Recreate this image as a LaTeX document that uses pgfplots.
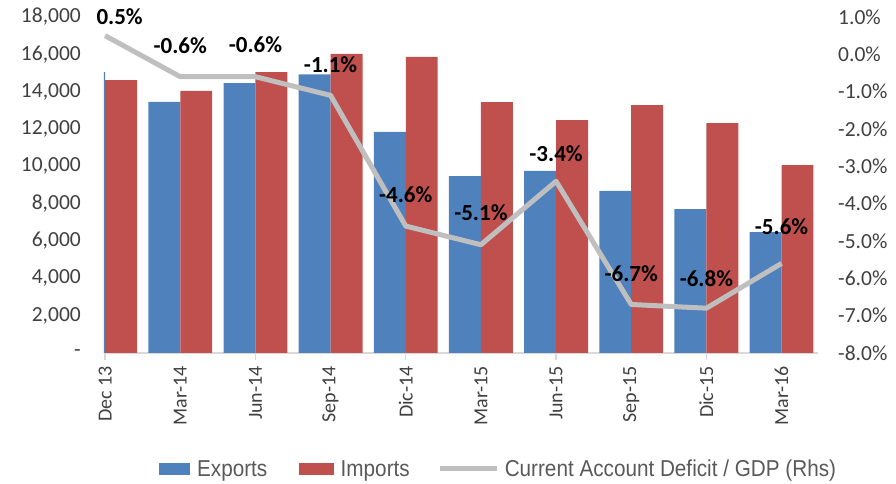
\documentclass[border=0pt]{standalone}
\usepackage{fontspec}
\setmainfont{Carlito}
\newfontfamily\legfont[FakeStretch=0.9]{Liberation Sans}
\usepackage{pgfplots}
\usepackage{pgfplotstable}
\pgfplotsset{compat=1.18}

\definecolor{expblue}{HTML}{4F81BD}
\definecolor{impred}{HTML}{C0504D}
\definecolor{cadgray}{HTML}{BFBFBF}
\definecolor{axgray}{HTML}{D9D9D9}
\definecolor{ticktext}{HTML}{404040}
\definecolor{legtext}{HTML}{595959}

% exports / imports (lhs)
\pgfplotstableread{
x exp imp
0 15050 14620
1 13450 14040
2 14460 15050
3 14920 16020
4 11840 15860
5 9480 13440
6 9750 12480
7 8680 13280
8 7710 12310
9 6480 10070
}\trade

% current account deficit / GDP (rhs), with label offsets in pt
\pgfplotstableread{
x cad dx dy
0 0.5 14.5 19
1 -0.6 0 31
2 -0.6 0 32
3 -1.1 0 31
4 -4.6 0 31
5 -5.1 0 32
6 -3.4 0 28
7 -6.7 0 31
8 -6.8 0 30
9 -5.6 0 37
}\cad

\begin{document}
\begin{tikzpicture}
\path[use as bounding box] (-104pt,-131pt) rectangle (792pt,353pt);
\pgfplotsset{
  base/.style={
    width=714pt, height=336pt, scale only axis,
    xmin=-0.015, xmax=9.485,
    scaled ticks=false,
    tick label style={font=\fontsize{21.5}{25}\selectfont, text=ticktext},
    /pgf/number format/assume math mode=true,
    major tick length=0pt,
  }
}
\begin{axis}[base,
  ymin=0, ymax=18000,
  ytick={0,2000,...,18000},
  yticklabels={{-\hspace{0.45em}},{2,000},{4,000},{6,000},{8,000},{10,000},{12,000},{14,000},{16,000},{18,000}},
  axis x line*=bottom, axis y line*=left,
  y axis line style={draw=none},
  x axis line style={draw=axgray, line width=1.3pt, -},
  xtick={0,...,9},
  xticklabels={Dec 13, Mar-14, Jun-14, Sep-14, Dic-14, Mar-15, Jun-15, Sep-15, Dic-15, Mar-16},
  xticklabel style={rotate=90, anchor=east, inner sep=0pt, font=\fontsize{20}{24}\selectfont},
  xticklabel shift=13pt,
  yticklabel style={anchor=east, inner sep=0pt},
  yticklabel shift=23pt,
  minor xtick={0,2,4,6,8},
  minor tick length=7pt,
  tick align=outside,
  minor tick style={draw=axgray, line width=1.3pt},
]
\addplot[ybar, bar width=0.425, bar shift=-0.2125, fill=expblue, draw=none] table[x=x, y=exp] {\trade};
\addplot[ybar, bar width=0.425, bar shift=0.2125, fill=impred, draw=none] table[x=x, y=imp] {\trade};
\end{axis}

\begin{axis}[base,
  ymin=-8, ymax=1,
  ytick={-8,...,1},
  axis y line*=right, axis x line=none,
  y axis line style={draw=none},
  yticklabel={\pgfmathprintnumber[fixed,fixed zerofill,precision=1]{\tick}\%},
  yticklabel style={anchor=west, inner sep=0pt},
  yticklabel shift=20pt,
  legend style={at={(0.551,-0.345)}, anchor=center, draw=none, fill=none,
    legend columns=3, font=\fontsize{23}{27}\legfont, text=legtext,
    nodes={inner sep=0pt}},
]
\addlegendimage{legend image code/.code={
  \fill[expblue] (0pt,-5.5pt) rectangle (30pt,5.5pt);
  \path (38pt,0pt);}}
\addlegendentry{Exports}
\addlegendimage{legend image code/.code={
  \path (-32pt,0pt);
  \fill[impred] (0pt,-5.5pt) rectangle (34pt,5.5pt);
  \path (41pt,0pt);}}
\addlegendentry{Imports}
\addplot[draw=cadgray, line width=5pt, line join=round, no marks,
  legend image code/.code={
    \path (-28pt,0pt);
    \draw[cadgray, line width=5pt] (0pt,0pt) -- (57pt,0pt);
    \path (62pt,0pt);},
  point meta=y,
  visualization depends on={\thisrow{dx} \as \labdx},
  visualization depends on={\thisrow{dy} \as \labdy},
  nodes near coords={\pgfmathprintnumber[fixed,fixed zerofill,precision=1]{\pgfplotspointmeta}\%},
  every node near coord/.append style={anchor=center, xshift=\labdx pt, yshift=\labdy pt,
    font=\fontsize{23}{27}\selectfont\bfseries, text=black},
] table[x=x, y=cad] {\cad};
\addlegendentry{Current Account Deficit / GDP (Rhs)}
\end{axis}
\end{tikzpicture}
\end{document}
